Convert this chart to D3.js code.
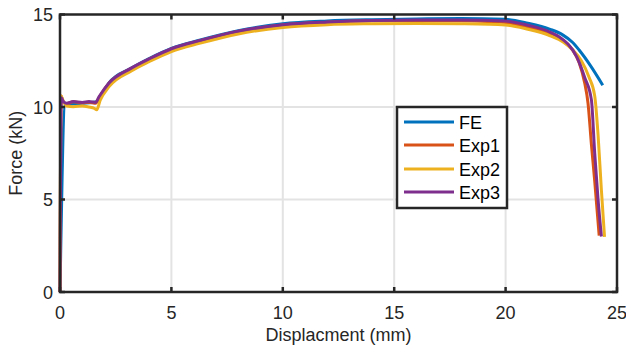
<!DOCTYPE html>
<html>
<head>
<meta charset="utf-8">
<script src="https://cdn.jsdelivr.net/npm/d3@7"></script>
<style>
  body { margin: 0; background: #fff; }
  svg { display: block; font-family: "Liberation Sans", Arial, sans-serif; }
</style>
</head>
<body>
<svg id="chart" width="626" height="352"></svg>
<script>
// Force-displacement curves: [displacement (mm), force (kN)]
const feData = [
    [0, 0], [0.22, 10.1], [0.4, 10.15], [1.0, 10.2], [1.7, 10.3], [1.8, 10.5],
    [2.2, 11.3], [3.2, 12.1], [4.0, 12.62], [5.0, 13.17], [6.3, 13.62], [8, 14.12],
    [10, 14.5], [12, 14.65], [14, 14.72], [16, 14.76], [18, 14.78], [20, 14.74],
    [21, 14.53], [22, 14.2], [22.56, 13.9], [23.0, 13.5], [23.3, 13.08],
    [23.8, 12.25], [24.36, 11.18]
];

const exp1Data = [
    [0, 0], [0.05, 10.6], [0.15, 10.25], [0.3, 10.18], [0.6, 10.28], [1.0, 10.22],
    [1.3, 10.26], [1.6, 10.2], [1.75, 10.5], [2.2, 11.28], [3.2, 12.08], [4.0, 12.58],
    [5.0, 13.13], [6.3, 13.58], [8, 14.08], [10, 14.43], [12, 14.58], [14, 14.66],
    [16, 14.68], [18, 14.66], [20, 14.57], [21, 14.3], [22, 13.95], [22.6, 13.55],
    [23.0, 13.1], [23.3, 12.4], [23.55, 11.3], [23.7, 10.2], [23.85, 8.0],
    [24.0, 6.0], [24.2, 3.05]
];

const exp2Data = [
    [0, 0], [0.05, 10.6], [0.12, 10.4], [0.3, 10.05], [0.6, 10.02], [1.0, 10.06],
    [1.3, 10.0], [1.55, 9.92], [1.65, 9.85], [1.8, 10.35], [2.2, 11.1], [3.2, 11.95],
    [4.0, 12.45], [5.0, 13.0], [6.3, 13.45], [8, 13.95], [10, 14.3], [12, 14.45],
    [14, 14.5], [16, 14.52], [18, 14.5], [20, 14.43], [21, 14.2], [22, 13.85],
    [22.6, 13.5], [23.0, 13.1], [23.4, 12.5], [23.75, 11.6], [24.0, 10.6],
    [24.15, 8.5], [24.3, 5.5], [24.44, 2.98]
];

const exp3Data = [
    [0, 0], [0.06, 10.5], [0.15, 10.3], [0.3, 10.2], [0.6, 10.3], [1.0, 10.25],
    [1.3, 10.3], [1.6, 10.25], [1.75, 10.55], [2.2, 11.3], [3.2, 12.1], [4.0, 12.6],
    [5.0, 13.15], [6.3, 13.6], [8, 14.1], [10, 14.45], [12, 14.6], [14, 14.68],
    [16, 14.7], [18, 14.7], [20, 14.65], [21, 14.42], [22, 14.05], [22.4, 13.8],
    [22.8, 13.4], [23.2, 12.7], [23.55, 11.6], [23.85, 10.4], [24.0, 7.5],
    [24.15, 5.0], [24.3, 3.0]
];

const seriesNames = ["FE", "Exp1", "Exp2", "Exp3"];
const seriesColors = ["#0072BD", "#D95319", "#EDB120", "#7E2F8E"];
const allSeries = [feData, exp1Data, exp2Data, exp3Data];

const xTicks = [0, 5, 10, 15, 20, 25];
const yTicks = [0, 5, 10, 15];

const margin = { left: 60, right: 9, top: 14.5, bottom: 60 };
const width = 626, height = 352;
const axisColor = "#262626";
const fontSize = 18;

const svg = d3.select("#chart");

const x = d3.scaleLinear().domain([0, 25]).range([margin.left, width - margin.right]);
const y = d3.scaleLinear().domain([0, 15]).range([height - margin.bottom, margin.top]);

const x0 = x(0), x1 = x(25), y0 = y(0), y1 = y(15);

// grid lines
const grid = svg.append("g").attr("stroke", "#e3e3e3").attr("stroke-width", 2);
xTicks.slice(1, -1).forEach(t => {
    grid.append("line").attr("x1", x(t)).attr("x2", x(t)).attr("y1", y0).attr("y2", y1);
});
yTicks.slice(1, -1).forEach(t => {
    grid.append("line").attr("x1", x0).attr("x2", x1).attr("y1", y(t)).attr("y2", y(t));
});

// curves
const line = d3.line()
    .x(d => x(d[0]))
    .y(d => y(d[1]))
    .curve(d3.curveMonotoneX);

svg.append("g").selectAll("path")
    .data(allSeries)
    .enter().append("path")
    .attr("d", line)
    .attr("fill", "none")
    .attr("stroke", (d, i) => seriesColors[i])
    .attr("stroke-width", 3)
    .attr("stroke-linejoin", "round");

// axes box with inner ticks on all four sides
const frame = svg.append("g").attr("stroke", axisColor).attr("stroke-width", 2.5);
const tickLen = 5;
xTicks.forEach(t => {
    frame.append("line").attr("x1", x(t)).attr("x2", x(t)).attr("y1", y0).attr("y2", y0 - tickLen);
    frame.append("line").attr("x1", x(t)).attr("x2", x(t)).attr("y1", y1).attr("y2", y1 + tickLen);
});
yTicks.forEach(t => {
    frame.append("line").attr("x1", x0).attr("x2", x0 + tickLen).attr("y1", y(t)).attr("y2", y(t));
    frame.append("line").attr("x1", x1).attr("x2", x1 - tickLen).attr("y1", y(t)).attr("y2", y(t));
});
frame.append("rect")
    .attr("x", x0).attr("y", y1)
    .attr("width", x1 - x0).attr("height", y0 - y1)
    .attr("fill", "none");

// tick labels
svg.append("g").selectAll("text")
    .data(xTicks)
    .enter().append("text")
    .attr("x", d => x(d))
    .attr("y", y0 + 27)
    .attr("text-anchor", "middle")
    .attr("font-size", fontSize)
    .attr("fill", axisColor)
    .text(d => d);

svg.append("g").selectAll("text")
    .data(yTicks)
    .enter().append("text")
    .attr("x", x0 - 7)
    .attr("y", d => y(d) + 6.5)
    .attr("text-anchor", "end")
    .attr("font-size", fontSize)
    .attr("fill", axisColor)
    .text(d => d);

// axis titles
svg.append("text")
    .attr("x", (x0 + x1) / 2)
    .attr("y", 341)
    .attr("text-anchor", "middle")
    .attr("font-size", fontSize)
    .attr("fill", axisColor)
    .text("Displacment (mm)");

svg.append("text")
    .attr("transform", `translate(22,${(y0 + y1) / 2}) rotate(-90)`)
    .attr("text-anchor", "middle")
    .attr("font-size", fontSize)
    .attr("fill", axisColor)
    .text("Force (kN)");

// legend
const legend = svg.append("g");
legend.append("rect")
    .attr("x", 397).attr("y", 107)
    .attr("width", 110).attr("height", 101)
    .attr("fill", "#fff")
    .attr("stroke", axisColor)
    .attr("stroke-width", 2.5);

const legendRows = [122, 145, 169, 192];
seriesNames.forEach((name, i) => {
    legend.append("line")
        .attr("x1", 404).attr("x2", 454)
        .attr("y1", legendRows[i]).attr("y2", legendRows[i])
        .attr("stroke", seriesColors[i])
        .attr("stroke-width", 3);
    legend.append("text")
        .attr("x", 459)
        .attr("y", legendRows[i] + 6.5)
        .attr("font-size", fontSize)
        .attr("fill", "#000")
        .text(name);
});
</script>
</body>
</html>
